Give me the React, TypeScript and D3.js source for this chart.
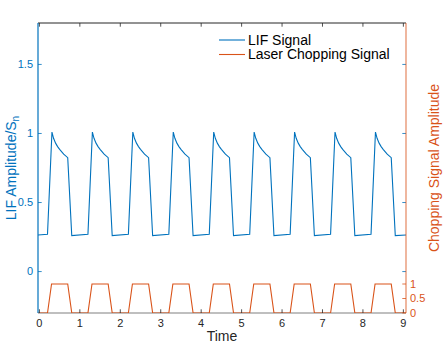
import React from 'react';
import * as d3 from 'd3';

// one period of each signal (phase within a 1 s cycle)
const cycleStarts = [0, 1, 2, 3, 4, 5, 6, 7, 8];
const lifPhase = [0.2, 0.31, 0.35, 0.4, 0.45, 0.5, 0.6, 0.7, 0.8];
const lifLevel = [0.27, 1.01, 0.965, 0.93, 0.905, 0.885, 0.85, 0.825, 0.26];
const lifStart = { t: -0.04, v: 0.265 };
const lifEnd = { t: 9.08, v: 0.265 };

const chopPhase = [0.2, 0.3, 0.7, 0.8];
const chopLevel = [0, 1, 1, 0];

const xTicks = [0, 1, 2, 3, 4, 5, 6, 7, 8, 9];
const leftTicks = [0, 0.5, 1, 1.5];
const rightTicks = [0, 0.5, 1];

const BLUE = '#0072BD';
const ORANGE = '#D95319';
const DARK = '#262626';
const FONT = '"Liberation Sans", Arial, Helvetica, sans-serif';

const W = 443;
const H = 344;
const margin = { top: 23, right: 37, bottom: 31, left: 38 };

export default function App() {
  const iw = W - margin.left - margin.right;
  const ih = H - margin.top - margin.bottom;

  const x = d3.scaleLinear().domain([-0.035, 9.065]).range([0, iw]);
  const yL = d3.scaleLinear().domain([-0.3, 1.8]).range([ih, 0]);
  const yR = d3.scaleLinear().domain([0, 10]).range([ih, 0]);

  // assemble series from the per-cycle readings
  const lif: [number, number][] = [[lifStart.t, lifStart.v]];
  cycleStarts.forEach(c => lifPhase.forEach((p, i) => lif.push([c + p, lifLevel[i]])));
  lif.push([lifEnd.t, lifEnd.v]);

  const chop: [number, number][] = [[-0.04, 0]];
  cycleStarts.forEach(c => chopPhase.forEach((p, i) => chop.push([c + p, chopLevel[i]])));
  chop.push([9.08, 0]);

  const lineL = d3.line<[number, number]>().x(d => x(d[0])).y(d => yL(d[1]));
  const lineR = d3.line<[number, number]>().x(d => x(d[0])).y(d => yR(d[1]));

  const tl = 3.7;
  const fmt = (v: number) => String(v);

  return (
    <svg width={W} height={H} style={{ position: 'absolute', left: 0, top: 0, background: '#fff' }}>
      <defs>
        <clipPath id="plot">
          <rect x={0} y={0} width={iw} height={ih} />
        </clipPath>
      </defs>
      <g transform={`translate(${margin.left},${margin.top})`}>
        {/* bottom + top box lines */}
        <line x1={0} x2={iw} y1={ih} y2={ih} stroke="#808080" strokeWidth={1.2} />
        <line x1={0} x2={iw} y1={0} y2={0} stroke={DARK} strokeWidth={1} />

        {/* data */}
        <g clipPath="url(#plot)">
          <path d={lineL(lif) ?? ''} fill="none" stroke={BLUE} strokeWidth={1.1} />
          <path d={lineR(chop) ?? ''} fill="none" stroke={ORANGE} strokeWidth={1.1} />
        </g>

        {/* x ticks, bottom and top */}
        {xTicks.map(t => (
          <g key={'x' + t}>
            <line x1={x(t)} x2={x(t)} y1={ih} y2={ih - tl} stroke={DARK} strokeWidth={0.8} />
            <line x1={x(t)} x2={x(t)} y1={0} y2={tl} stroke={DARK} strokeWidth={0.8} />
            <text x={x(t)} y={ih + 14} textAnchor="middle" fontFamily={FONT} fontSize={11} fill={DARK}>
              {fmt(t)}
            </text>
          </g>
        ))}

        {/* left axis */}
        <line x1={0} x2={0} y1={0} y2={ih} stroke={BLUE} strokeWidth={1.2} />
        {leftTicks.map(t => (
          <g key={'l' + t}>
            <line x1={0} x2={tl} y1={yL(t)} y2={yL(t)} stroke={BLUE} strokeWidth={0.8} />
            <line x1={iw} x2={iw - tl} y1={yL(t)} y2={yL(t)} stroke={BLUE} strokeWidth={0.8} />
            <text x={-5} y={yL(t)} dy="0.35em" textAnchor="end" fontFamily={FONT} fontSize={11} fill={BLUE}>
              {fmt(t)}
            </text>
          </g>
        ))}

        {/* right axis */}
        <line x1={iw} x2={iw} y1={0} y2={ih} stroke={ORANGE} strokeOpacity={0.7} strokeWidth={1.2} />
        {rightTicks.map(t => (
          <g key={'r' + t}>
            <line x1={iw} x2={iw - tl} y1={yR(t)} y2={yR(t)} stroke={ORANGE} strokeWidth={0.8} />
            <text x={iw + 4} y={yR(t)} dy="0.35em" textAnchor="start" fontFamily={FONT} fontSize={11} fill={ORANGE}>
              {fmt(t)}
            </text>
          </g>
        ))}
      </g>

      {/* axis titles */}
      <text
        transform={`translate(16,${margin.top + yL(0.75)}) rotate(-90)`}
        textAnchor="middle"
        fontFamily={FONT}
        fontSize={14}
        fill={BLUE}
      >
        LIF Amplitude/S<tspan fontSize={10} dy={3}>n</tspan>
      </text>
      <text
        transform={`translate(438.5,${margin.top + ih * 0.5}) rotate(-90)`}
        textAnchor="middle"
        fontFamily={FONT}
        fontSize={14}
        fill={ORANGE}
      >
        Chopping Signal Amplitude
      </text>
      <text x={222} y={341} textAnchor="middle" fontFamily={FONT} fontSize={14} fill={DARK}>
        Time
      </text>

      {/* legend */}
      <g fontFamily={FONT} fontSize={14} fill="#000">
        <line x1={219} x2={245} y1={40} y2={40} stroke={BLUE} strokeWidth={1.1} />
        <text x={248} y={40} dy="0.35em">LIF Signal</text>
        <line x1={219} x2={245} y1={54.5} y2={54.5} stroke={ORANGE} strokeWidth={1.1} />
        <text x={248} y={54.5} dy="0.35em">Laser Chopping Signal</text>
      </g>
    </svg>
  );
}
